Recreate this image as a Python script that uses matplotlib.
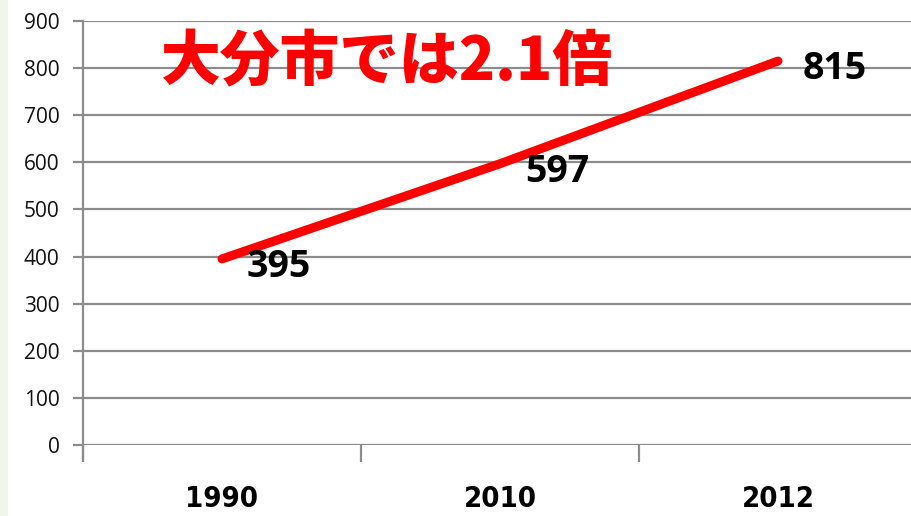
import matplotlib
matplotlib.use("Agg")
import matplotlib.pyplot as plt
from matplotlib.patches import Rectangle

plt.rcParams['font.family'] = ['Open Sans', 'DejaVu Sans']

categories = ["1990", "2010", "2012"]
values = [395, 597, 815]
yticks = [0, 100, 200, 300, 400, 500, 600, 700, 800, 900]
title_text = "大分市では2.1倍"

fig = plt.figure(figsize=(9.11, 5.16), dpi=100)
fig.patches.append(Rectangle((0, 0), 8 / 911, 1, transform=fig.transFigure,
                             facecolor="#f1f6ea", edgecolor="none", zorder=0))
ax = fig.add_axes([83 / 911, 71 / 516, 834 / 911, 424 / 516])

grid_c = "#8c8c8c"
x = list(range(len(categories)))
ax.set_xlim(-0.5, len(categories) - 0.5)
ax.set_ylim(0, 900)
ax.set_yticks(yticks)
ax.set_yticklabels([str(v) for v in yticks], fontsize=15, color="#111111")
ax.yaxis.grid(True, color=grid_c, linewidth=1.6)
ax.set_axisbelow(True)
for s in ["top", "right", "bottom"]:
    ax.spines[s].set_visible(False)
ax.spines["left"].set_color(grid_c)
ax.spines["left"].set_linewidth(1.6)
ax.spines["left"].set_bounds(-30, 900)
ax.tick_params(axis="y", length=7, width=1.6, color=grid_c, pad=10)

ax.set_xticks(x)
ax.set_xticklabels(categories, fontsize=21, fontweight="bold", fontstretch="condensed",
                   family=["DejaVu Sans", "Liberation Sans"])
ax.tick_params(axis="x", length=0, pad=29)
ax.set_xticks([i - 0.5 for i in range(len(categories) + 1)], minor=True)
ax.tick_params(axis="x", which="minor", length=12, width=1.6, color=grid_c)

ax.plot(x, values, color="#ff0000", linewidth=6.5, solid_capstyle="round", zorder=3)

for xi, v in zip(x, values):
    ax.annotate(str(v), (xi, v), xytext=(18, -6), textcoords="offset points",
                ha="left", va="center", fontsize=27, fontweight="bold",
                color="black", zorder=4)

fig.text(160 / 911, 1 - 62 / 516, title_text, color="#ff0000", fontsize=43,
         fontweight="black", ha="left", va="center",
         family=["Noto Sans CJK JP", "DejaVu Sans"])

fig.savefig("out.png", dpi=100)
